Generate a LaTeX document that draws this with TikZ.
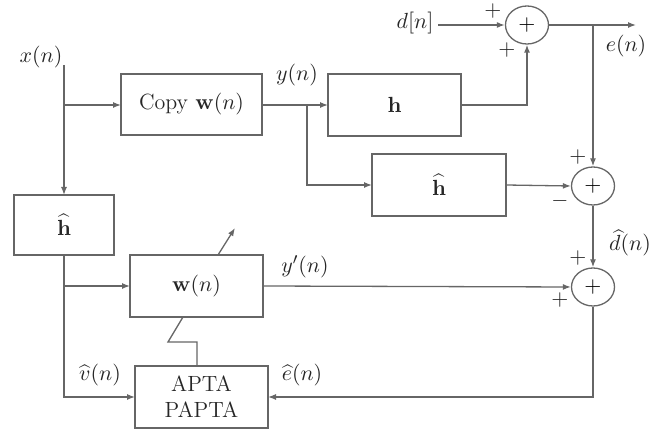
\documentclass[tikz,border=0pt]{standalone}
\usetikzlibrary{arrows.meta,shapes.geometric}
\begin{document}
\begin{tikzpicture}[x=0.5pt,y=-0.5pt,
  font=\fontsize{11}{13}\selectfont,
  line width=0.65pt,
  lc/.style={draw=black!60},
  blk/.style={draw=black!60,line width=0.65pt},
  sumnode/.style={draw=black!60,ellipse,inner sep=0pt,minimum width=21.5pt,minimum height=19pt},
  sig/.style={draw=black!60,-{Latex[length=4pt,width=3pt]}},
  lbl/.style={text=black!85,inner sep=0pt}]
\useasboundingbox (0,0) rectangle (670,432);
% boxes
\draw[blk] (121,74) rectangle (262,135);
\node[lbl] (copy) at (191.5,104.5) {Copy $\mathbf{w}(n)$};
\coordinate (copyW) at (121,105); \coordinate (copyE) at (262,105);
\draw[blk] (328,74) rectangle (461,136);
\node[lbl] (h) at (394.5,105) {$\mathbf{h}$};
\coordinate (hW) at (328,105); \coordinate (hE) at (461,105);
\draw[blk] (372,154) rectangle (506,216);
\node[lbl] (hh2) at (439,185) {$\widehat{\mathbf{h}}$};
\coordinate (hh2W) at (372,185); \coordinate (hh2E) at (506,185);
\draw[blk] (14,195) rectangle (114,255);
\node[lbl] (hhL) at (64,225) {$\widehat{\mathbf{h}}$};
\coordinate (hhLN) at (64,195); \coordinate (hhLS) at (64,255);
\draw[blk] (130,255) rectangle (263,317);
\node[lbl] (w) at (196.5,286) {$\mathbf{w}(n)$};
\coordinate (wW) at (130,286); \coordinate (wE) at (263,286);
\draw[blk] (135,366) rectangle (268,428);
\node[lbl,align=center] (apta) at (201.5,397) {APTA\\PAPTA};
\coordinate (aptaW) at (135,397); \coordinate (aptaE) at (268,397);
% summing nodes
\node[sumnode] (s1) at (527,25) {$+$};
\node[sumnode] (s2) at (593,186) {$+$};
\node[sumnode] (s3) at (593,287) {$+$};
% labels
\node[lbl] (xl) at (41,57) {$x(n)$};
\node[lbl] (yl) at (297,75) {$y(n)$};
\node[lbl] (dl) at (415,23) {$d[n]$};
\node[lbl] (el) at (626,46) {$e(n)$};
\node[lbl] (dhl) at (630,243) {$\widehat{d}(n)$};
\node[lbl] (ypl) at (305,267) {$y'(n)$};
\node[lbl] (vl) at (100,375) {$\widehat{v}(n)$};
\node[lbl] (ehl) at (302,375) {$\widehat{e}(n)$};
\node[lbl] (p1) at (493,11) {$+$};
\node[lbl] (p2) at (507,50) {$+$};
\node[lbl] (p3) at (578,157) {$+$};
\node[lbl] (m1) at (560,201) {$-$};
\node[lbl] (p4) at (578,258) {$+$};
\node[lbl] (p5) at (560,300) {$+$};
% coordinates
\coordinate (xs) at (64,65);
\coordinate (xb) at (64,105);
\coordinate (yb) at (307,105);
\coordinate (ds) at (438,25);
\coordinate (eo) at (636,25);
\coordinate (eb) at (593,25);
\coordinate (vb) at (64,286);
\coordinate (c3) at (593,397);
\coordinate (c4) at (64,397);
\coordinate (ta) at (218,255);
\coordinate (tb) at (235,228);
\coordinate (z1) at (183,317);
\coordinate (z2) at (168,342);
\coordinate (z3) at (197,342);
\coordinate (z4) at (197,366);
% connectors
\draw[sig] (xs) -- (hhLN);
\draw[sig] (xb) -- (copyW);
\draw[sig] (copyE) -- (hW);
\draw[sig] (yb) |- (hh2W);
\draw[sig] (hE) -| (s1.south);
\draw[sig] (ds) -- (s1.west);
\draw[sig] (s1.east) -- (eo);
\draw[sig] (eb) -- (s2.north);
\draw[sig] (hh2E) -- (s2.west);
\draw[sig] (s2.south) -- (s3.north);
\draw[sig] (wE) -- (s3.west);
\draw[sig] (s3.south) -- (c3) -- (aptaE);
\draw[sig] (hhLS) -- (c4) -- (aptaW);
\draw[sig] (vb) -- (wW);
\draw[sig] (ta) -- (tb);
\draw[lc] (z1) -- (z2) -- (z3) -- (z4);
\end{tikzpicture}
\end{document}
